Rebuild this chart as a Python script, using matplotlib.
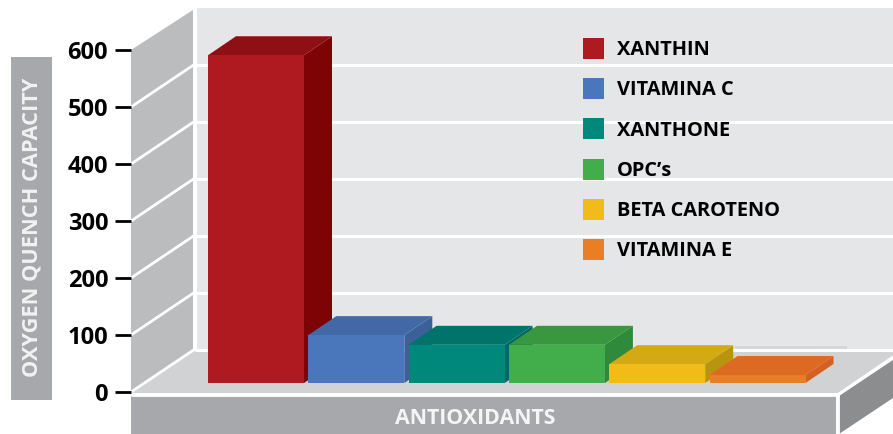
import matplotlib
matplotlib.use('Agg')
import matplotlib.pyplot as plt
from matplotlib.patches import Polygon, Rectangle, Patch

names = ['XANTHIN', 'VITAMINA C', 'XANTHONE', 'OPC’s', 'BETA CAROTENO', 'VITAMINA E']
values = [575, 84, 67, 67, 33, 14]
ticks = [0, 100, 200, 300, 400, 500, 600]

front = ['#ae1a20', '#4a77bb', '#00897a', '#42ae4b', '#f1bc19', '#e97e24']
top = ['#8f1014', '#4269a6', '#00746a', '#38973f', '#d4aa14', '#dd6a22']
side = ['#7d0304', '#3c609a', '#006a62', '#2f8a3b', '#b9950f', '#d66022']

W, H = 893, 434
FONT = 'Open Sans'
PX_PER_UNIT = 0.57
SLOT = 100.3

fig = plt.figure(figsize=(W / 100, H / 100), dpi=100)

# background in pixel coordinates
bg = fig.add_axes([0, 0, 1, 1])
bg.set_xlim(0, W)
bg.set_ylim(H, 0)
bg.axis('off')

bg.add_patch(Rectangle((197, 8), 696, 342, fc='#e5e6e8', ec='none'))
bg.add_patch(Polygon([(131, 50), (193, 10), (193, 350), (131, 392)], fc='#bbbcbe', ec='none'))
bg.add_patch(Polygon([(131, 393), (194, 351), (893, 351), (893, 356), (838, 393)], fc='#d1d2d4', ec='none'))
bg.add_patch(Rectangle((131, 396), 705, 38, fc='#a7a8ab', ec='none'))
bg.add_patch(Polygon([(839, 396), (893, 360), (893, 398), (839, 434)], fc='#8c8d8f', ec='none'))
bg.add_patch(Rectangle((735, 346), 112, 3, fc='#d5d6d8', ec='none'))

# grid on both walls
for t in ticks:
    yf = 392 - t * PX_PER_UNIT
    yb = yf - 42
    if t < 600:
        bg.plot([131, 195], [yf, yb - 1], color='white', lw=2, solid_capstyle='butt')
        bg.plot([195, 893], [yb, yb], color='white', lw=2.2, solid_capstyle='butt')
bg.plot([131, 838], [394.5, 394.5], color='white', lw=2, solid_capstyle='butt')
bg.plot([837.5, 893], [395, 357], color='white', lw=2, solid_capstyle='butt')
bg.plot([837.5, 837.5], [394, 434], color='white', lw=2, solid_capstyle='butt')

# axis title boxes
bg.add_patch(Rectangle((11, 57), 41, 343, fc='#a7a8ab', ec='none'))
bg.text(32, 227, 'OXYGEN QUENCH CAPACITY', rotation=90, color='#f2f2f3', ha='center', va='center',
        fontsize=15.7, fontweight='bold', family=FONT)
bg.text(475, 419, 'ANTIOXIDANTS', color='#f5f5f6', ha='center', va='center',
        fontsize=15.4, fontweight='bold', family=FONT)

# value axis with tick marks
ax_y = fig.add_axes([131 / W, (H - 392) / H, 0.01, 342 / H])
ax_y.set_ylim(0, 600)
ax_y.set_xticks([])
ax_y.set_yticks(ticks)
ax_y.set_yticklabels([str(t) for t in ticks], fontsize=17, fontweight='bold', family=FONT)
ax_y.tick_params(axis='y', length=11.5, width=2, color='black', pad=5)
ax_y.patch.set_alpha(0)
for s in ax_y.spines.values():
    s.set_visible(False)

# bars: y in chart units, x in category slots
ax = fig.add_axes([0, 0, 1, 1])
ax.set_xlim(-256 / SLOT, (W - 256) / SLOT)
ax.set_ylim((383 - H) / PX_PER_UNIT, 383 / PX_PER_UNIT)
ax.axis('off')

bar_w = 96 / SLOT
depth_x = 28 / SLOT
depth_y = 19 / PX_PER_UNIT

for i, v in enumerate(values):
    l = i - bar_w / 2
    r = i + bar_w / 2
    ax.fill([r, r + depth_x, r + depth_x, r], [0, depth_y, v + depth_y, v], color=side[i], lw=0)
    ax.fill([l, r, r + depth_x, l + depth_x], [v, v, v + depth_y, v + depth_y], color=top[i], lw=0)
    ax.bar(i, v, width=bar_w, color=front[i], linewidth=0)

handles = [Patch(fc=c, ec='none') for c in front]
leg_ax = fig.add_axes([583 / W, (H - 270) / H, 260 / W, 232 / H])
leg_ax.axis('off')
leg = leg_ax.legend(handles, names, loc='upper left', bbox_to_anchor=(0, 1), borderaxespad=0, frameon=False,
                    prop={'family': FONT, 'weight': 'bold', 'size': 14.4},
                    handlelength=1.05, handleheight=1.24, handletextpad=0.66, labelspacing=0.9, borderpad=0)

fig.savefig('out.png', dpi=100)
